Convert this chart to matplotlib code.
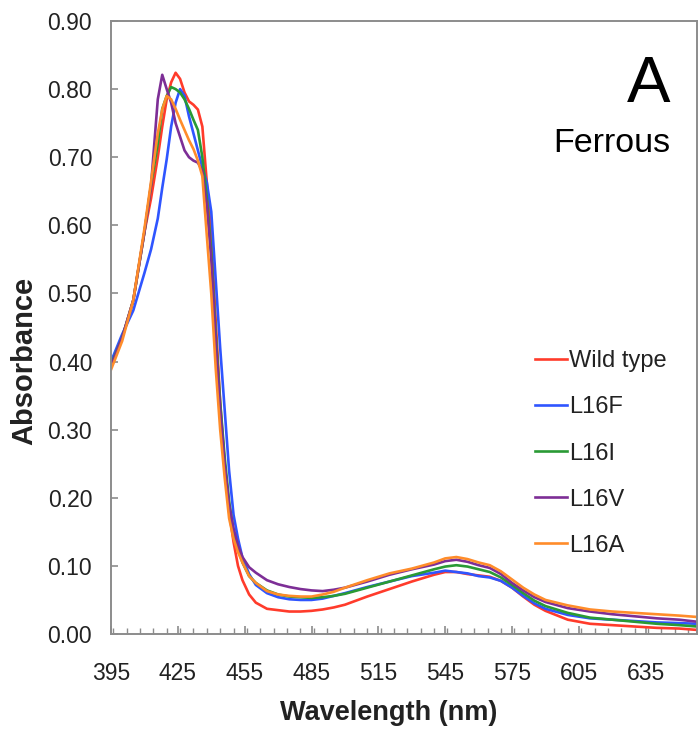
import numpy as np
import matplotlib
matplotlib.use("Agg")
import matplotlib.pyplot as plt
from matplotlib.ticker import MultipleLocator, FormatStrFormatter

plt.rcParams['font.family'] = ['Liberation Sans', 'DejaVu Sans']

# wavelength grid (nm) and absorbance
wavelength = [395, 400, 405, 410, 413, 416, 418, 420, 422, 424, 426, 428, 430, 432, 434, 436,
              438, 440, 442, 444, 446, 448, 450, 452, 454, 457, 460, 465, 470, 475, 480, 485,
              490, 495, 500, 510, 520, 530, 540, 545, 550, 555, 560, 565, 570, 575, 580, 585,
              590, 600, 610, 620, 630, 640, 650, 658]

wild_type = [0.393, 0.435, 0.49, 0.59, 0.64, 0.70, 0.745, 0.785, 0.81, 0.824, 0.815, 0.795, 0.782, 0.777, 0.77, 0.745,
             0.663, 0.584, 0.46, 0.34, 0.25, 0.18, 0.135, 0.10, 0.079, 0.058, 0.046, 0.037, 0.035, 0.033, 0.033, 0.034,
             0.036, 0.039, 0.043, 0.055, 0.066, 0.077, 0.087, 0.091, 0.091, 0.088, 0.086, 0.084, 0.078, 0.068, 0.055, 0.043,
             0.034, 0.021, 0.015, 0.013, 0.011, 0.009, 0.008, 0.006]

l16f = [0.40, 0.44, 0.475, 0.53, 0.565, 0.61, 0.655, 0.697, 0.745, 0.78, 0.80, 0.79, 0.76, 0.735, 0.71, 0.685,
        0.663, 0.62, 0.52, 0.42, 0.33, 0.24, 0.175, 0.14, 0.112, 0.088, 0.072, 0.06, 0.054, 0.051, 0.05, 0.05,
        0.052, 0.056, 0.06, 0.069, 0.077, 0.085, 0.09, 0.093, 0.091, 0.089, 0.085, 0.083, 0.078, 0.068, 0.056, 0.045,
        0.037, 0.028, 0.023, 0.021, 0.019, 0.017, 0.016, 0.015]

l16i = [0.395, 0.435, 0.49, 0.59, 0.66, 0.72, 0.771, 0.79, 0.803, 0.80, 0.795, 0.785, 0.771, 0.755, 0.74, 0.70,
        0.64, 0.56, 0.44, 0.34, 0.26, 0.195, 0.15, 0.125, 0.105, 0.085, 0.075, 0.064, 0.058, 0.055, 0.054, 0.053,
        0.054, 0.056, 0.059, 0.068, 0.077, 0.086, 0.095, 0.099, 0.101, 0.099, 0.095, 0.091, 0.083, 0.072, 0.06, 0.049,
        0.041, 0.031, 0.024, 0.021, 0.018, 0.015, 0.013, 0.011]

l16v = [0.393, 0.435, 0.49, 0.59, 0.66, 0.785, 0.821, 0.80, 0.78, 0.75, 0.73, 0.71, 0.70, 0.695, 0.692, 0.68,
        0.63, 0.55, 0.43, 0.33, 0.25, 0.19, 0.155, 0.13, 0.113, 0.098, 0.09, 0.079, 0.073, 0.069, 0.066, 0.064,
        0.063, 0.065, 0.068, 0.077, 0.087, 0.095, 0.102, 0.107, 0.109, 0.106, 0.101, 0.097, 0.088, 0.075, 0.064, 0.054,
        0.047, 0.038, 0.033, 0.029, 0.026, 0.023, 0.021, 0.018]

l16a = [0.388, 0.43, 0.49, 0.595, 0.665, 0.735, 0.77, 0.79, 0.785, 0.771, 0.755, 0.74, 0.725, 0.712, 0.695, 0.672,
        0.585, 0.50, 0.39, 0.30, 0.23, 0.17, 0.14, 0.12, 0.105, 0.085, 0.075, 0.063, 0.058, 0.056, 0.055, 0.055,
        0.058, 0.062, 0.068, 0.079, 0.089, 0.096, 0.105, 0.111, 0.113, 0.11, 0.105, 0.101, 0.092, 0.08, 0.068, 0.058,
        0.05, 0.042, 0.036, 0.033, 0.031, 0.029, 0.027, 0.025]

series = [("Wild type", wild_type, "#ff3b2b"),
          ("L16F", l16f, "#2f55ff"),
          ("L16I", l16i, "#2a9a35"),
          ("L16V", l16v, "#7d2e96"),
          ("L16A", l16a, "#ff8c2a")]

fig = plt.figure(figsize=(6.99, 7.31), dpi=100)
ax = fig.add_axes([111 / 699, 1 - 634 / 731, (697 - 111) / 699, (634 - 21) / 731])

for name, vals, col in series:
    ax.plot(wavelength, vals, color=col, lw=1.9, label=name)

ax.set_xlim(395, 658)
ax.set_ylim(0, 0.9)
ax.xaxis.set_minor_locator(MultipleLocator(6))
ax.yaxis.set_major_locator(MultipleLocator(0.1))
ax.yaxis.set_major_formatter(FormatStrFormatter("%.2f"))
ax.set_xticks(np.arange(395, 640, 30))

for s in ax.spines.values():
    s.set_color("#8c8c8c")
    s.set_linewidth(1.4)
ax.tick_params(axis="both", which="both", direction="in", colors="#8c8c8c", labelcolor="#222222", labelsize=16.5)
ax.tick_params(axis="x", which="major", length=6, width=1.2, pad=20)
ax.tick_params(axis="x", which="minor", length=4, width=1.0)
ax.tick_params(axis="y", which="major", length=5, width=1.2, pad=13.5)

fig.text(389 / 699, 1 - 720 / 731, "Wavelength (nm)", fontsize=19.5, fontweight="bold",
         ha="center", va="baseline", color="#222222")
fig.text(24 / 699, 1 - 361 / 731, "Absorbance", fontsize=21, fontweight="bold",
         ha="center", va="center", rotation=90, color="#222222")

fig.text(670 / 699, 1 - 102 / 731, "A", fontsize=47, ha="right", va="baseline", color="black")
fig.text(670 / 699, 1 - 152 / 731, "Ferrous", fontsize=24.5, ha="right", va="baseline", color="black")

leg = ax.legend(loc="center left", bbox_to_anchor=((535 - 111) / 586, (634 - 453.5) / 613),
                frameon=False, fontsize=17, handlelength=1.36, handletextpad=0.08,
                labelspacing=1.02, borderpad=0, borderaxespad=0)
for t in leg.get_texts():
    t.set_color("#222222")

fig.savefig("out.png", dpi=100)
